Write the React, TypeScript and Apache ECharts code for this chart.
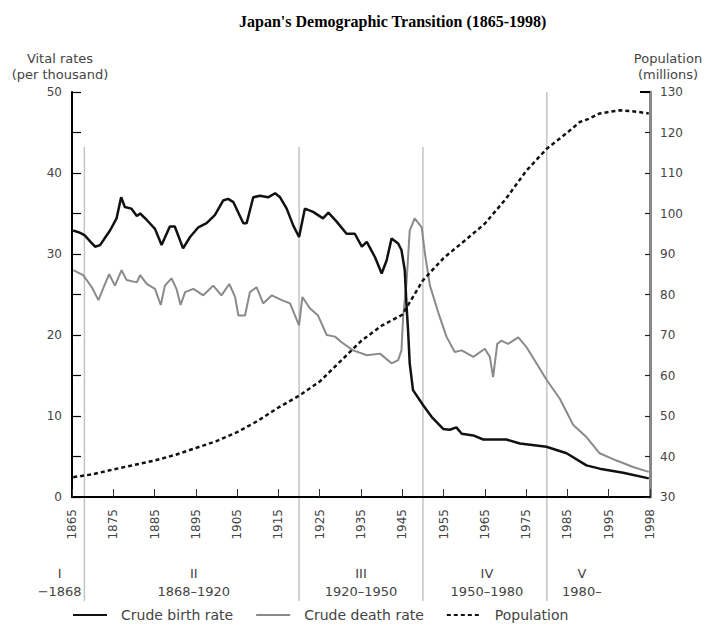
import React, { useEffect, useRef } from 'react';
import * as echarts from 'echarts';

// Horizontal positions are in the chart's own axis scale (ticks every 10 years from 1865; the last tick is labelled 1998)
const birthYears = [1865.3, 1867, 1868.1, 1869.5, 1870.6, 1871.8, 1873, 1874.2, 1875.8, 1876.9, 1877.8, 1879.4, 1880.7, 1881.5, 1883.1, 1885.1, 1886.7, 1888.7, 1889.9, 1891.9, 1893.6, 1895.6, 1897.6, 1899.6, 1901.6, 1902.8, 1904.1, 1906.5, 1907.3, 1908.9, 1910.5, 1912.5, 1914.2, 1915.4, 1917, 1918.6, 1920, 1921.4, 1923.4, 1925.8, 1927.1, 1929.1, 1931.5, 1933.5, 1935.2, 1936.4, 1938.4, 1940, 1941.2, 1942.4, 1944, 1944.8, 1945.6, 1946, 1946.4, 1946.8, 1947.6, 1950.1, 1952.1, 1954.9, 1956.5, 1958.1, 1959.4, 1962.2, 1964.6, 1970.2, 1973.5, 1979.9, 1984.8, 1989.6, 1992.8, 1998.5, 2004.7];
const birthRates = [32.9, 32.6, 32.3, 31.5, 30.9, 31.1, 32.0, 32.9, 34.4, 37.0, 35.8, 35.6, 34.7, 35.0, 34.2, 33.1, 31.1, 33.4, 33.4, 30.7, 32.1, 33.3, 33.8, 34.8, 36.6, 36.8, 36.4, 33.8, 33.8, 37.0, 37.2, 37.0, 37.5, 37.0, 35.6, 33.5, 32.1, 35.6, 35.2, 34.4, 35.1, 34.0, 32.5, 32.5, 30.9, 31.5, 29.6, 27.6, 29.2, 31.9, 31.3, 30.5, 28.0, 23.9, 20.6, 16.5, 13.2, 11.3, 9.9, 8.4, 8.3, 8.6, 7.8, 7.6, 7.1, 7.1, 6.6, 6.2, 5.4, 3.9, 3.5, 3.0, 2.3];

const deathYears = [1865.3, 1867.7, 1869.8, 1871.4, 1873, 1874, 1875.4, 1877, 1878.2, 1880.7, 1881.5, 1883.1, 1885.1, 1886.5, 1887.5, 1889.1, 1890.3, 1891.3, 1892.4, 1894.4, 1896.8, 1899.2, 1901.2, 1903.1, 1904.5, 1905.3, 1906.9, 1908.1, 1909.7, 1911.3, 1913.4, 1915.8, 1917.8, 1920, 1920.8, 1922.6, 1924.6, 1926.7, 1928.7, 1930.3, 1933.1, 1936.4, 1939.6, 1942.4, 1944, 1944.8, 1945.2, 1946, 1946.8, 1948, 1949.7, 1950.5, 1951.7, 1953.7, 1955.7, 1957.7, 1959.4, 1962.2, 1965, 1966.2, 1967, 1968, 1969, 1970.6, 1973.1, 1975.1, 1977.5, 1979.9, 1983.2, 1984.8, 1986.4, 1989.6, 1992.8, 1996.9, 2000.9, 2004.7];
const deathRates = [28.0, 27.4, 25.9, 24.3, 26.3, 27.5, 26.1, 28.0, 26.8, 26.5, 27.4, 26.3, 25.7, 23.7, 26.1, 27.0, 25.7, 23.7, 25.3, 25.7, 24.9, 26.1, 24.9, 26.3, 24.7, 22.4, 22.4, 25.3, 25.9, 23.9, 24.9, 24.3, 23.9, 21.2, 24.7, 23.3, 22.4, 20.0, 19.8, 19.1, 18.1, 17.5, 17.7, 16.5, 16.9, 18.1, 22.2, 26.3, 32.9, 34.4, 33.3, 30.0, 26.1, 22.8, 19.8, 17.9, 18.1, 17.3, 18.3, 17.3, 14.8, 18.9, 19.3, 18.9, 19.7, 18.5, 16.5, 14.5, 12.1, 10.5, 8.9, 7.4, 5.4, 4.5, 3.7, 3.1];

const popYears = [1865.3, 1870, 1875, 1880, 1885, 1890, 1895, 1900, 1905, 1910, 1915, 1920, 1925, 1930, 1935, 1940, 1945, 1950, 1955, 1960, 1965, 1970, 1975, 1980, 1985, 1988, 1990, 1992.8, 1997.7, 2000, 2002, 2004.7];
const popMillions = [34.9, 35.6, 36.8, 37.9, 39.0, 40.4, 42.1, 43.8, 46.0, 48.8, 52.1, 55.0, 58.5, 63.5, 68.5, 72.3, 75.0, 83.5, 89.0, 93.2, 97.5, 103.5, 110.5, 116.0, 120.0, 122.6, 123.3, 124.7, 125.5, 125.3, 125.1, 124.7];

const xMin = 1865;
const xMax = 2005;
const lastTickLabel = '1998';

const periodBounds = [1868, 1920, 1950, 1980];
const periodDividerTops = [43.2, 43.2, 43.2, 50];
const periodRoman = ['I', 'II', 'III', 'IV', 'V'];
const periodRanges = ['\u22121868', '1868\u20131920', '1920\u20131950', '1950\u20131980', '1980\u2013'];
const periodCenters = [1862, 1894.5, 1935, 1965.5, 1988.5];

const FONT = 'DejaVu Sans';
const TXT = '#444';

export default function App() {
  const ref = useRef<HTMLDivElement>(null);
  useEffect(() => {
    const chart = echarts.init(ref.current!, null, { renderer: 'svg' });
    const pairs = (xs: number[], ys: number[]) => xs.map((x, i) => [x, ys[i]]);
    chart.setOption({
      animation: false,
      backgroundColor: '#fff',
      title: {
        text: "Japan's Demographic Transition (1865-1998)",
        left: 239,
        top: 13,
        padding: 0,
        textStyle: { fontFamily: 'Liberation Serif', fontWeight: 'bold', fontSize: 16, color: '#000' },
      },
      legend: {
        left: 72,
        top: 608,
        padding: 0,
        itemWidth: 34,
        itemHeight: 12,
        itemGap: 22,
        itemStyle: { opacity: 0 },
        textStyle: { fontFamily: FONT, fontSize: 14, lineHeight: 14, color: TXT, padding: [0, 0, 0, 9] },
        data: ['Crude birth rate', 'Crude death rate', 'Population'],
      },
      grid: { left: 72, top: 92, width: 578, height: 405, containLabel: false },
      xAxis: {
        type: 'value',
        min: xMin,
        max: xMax,
        interval: 10,
        splitLine: { show: false },
        axisLine: { lineStyle: { color: '#000', width: 2 } },
        axisTick: { inside: true, length: 8, lineStyle: { color: '#333', width: 1 } },
        axisLabel: {
          rotate: 90,
          margin: 12,
          fontFamily: FONT,
          fontSize: 12,
          color: TXT,
          formatter: (v: number) => (v === xMax ? lastTickLabel : String(v)),
        },
      },
      yAxis: [
        {
          type: 'value',
          min: 0,
          max: 50,
          interval: 10,
          name: 'Vital rates\n(per thousand)',
          nameLocation: 'end',
          nameGap: 10,
          nameTextStyle: { fontFamily: FONT, fontSize: 13, color: TXT, align: 'center', lineHeight: 16, padding: [0, 24, 0, 0] },
          splitLine: { show: false },
          axisLine: { show: true, lineStyle: { color: '#000', width: 2 } },
          axisTick: { show: true, inside: true, length: 9, lineStyle: { color: '#000', width: 1.2 } },
          minorTick: { show: true, splitNumber: 2, length: 9, lineStyle: { color: '#000', width: 1.2 } },
          axisLabel: { fontFamily: FONT, fontSize: 12, color: TXT, margin: 10 },
        },
        {
          type: 'value',
          min: 30,
          max: 130,
          interval: 10,
          position: 'right',
          name: 'Population\n(millions)',
          nameLocation: 'end',
          nameGap: 10,
          nameTextStyle: { fontFamily: FONT, fontSize: 13, color: TXT, align: 'center', lineHeight: 16, padding: [0, 0, 0, 36] },
          splitLine: { show: false },
          axisLine: { show: true, lineStyle: { color: '#888', width: 3 } },
          axisTick: { show: true, inside: true, length: 5, lineStyle: { color: '#222', width: 1.2 } },
          axisLabel: { fontFamily: FONT, fontSize: 12, color: TXT, margin: 10 },
        },
      ],
      series: [
        {
          name: 'Crude birth rate',
          type: 'line',
          yAxisIndex: 0,
          symbol: 'none',
          data: pairs(birthYears, birthRates),
          lineStyle: { color: '#111', width: 2.5 },
          itemStyle: { color: '#111' },
          z: 4,
        },
        {
          name: 'Crude death rate',
          type: 'line',
          yAxisIndex: 0,
          symbol: 'none',
          data: pairs(deathYears, deathRates),
          lineStyle: { color: '#8a8a8a', width: 2 },
          itemStyle: { color: '#8a8a8a' },
          z: 3,
        },
        {
          name: 'Population',
          type: 'line',
          yAxisIndex: 1,
          symbol: 'none',
          data: pairs(popYears, popMillions),
          lineStyle: { color: '#111', width: 2.5, type: [4, 3] },
          itemStyle: { color: '#111' },
          z: 5,
        },
      ],
    });

    const px = (v: number) => chart.convertToPixel({ xAxisIndex: 0 }, v) as number;
    const py = (v: number) => chart.convertToPixel({ yAxisIndex: 0 }, v) as number;
    const pyR = (v: number) => chart.convertToPixel({ yAxisIndex: 1 }, v) as number;
    const base = py(0);
    const g: any[] = [];
    periodBounds.forEach((yr, i) => {
      const x = px(yr);
      g.push({
        type: 'line',
        z: 0,
        shape: { x1: x, y1: py(periodDividerTops[i]), x2: x, y2: base + 104 },
        style: { stroke: '#c4c4c4', lineWidth: 1.5 },
      });
    });
    periodRoman.forEach((r, i) => {
      const x = px(periodCenters[i]);
      g.push({
        type: 'text',
        x,
        y: base + 76,
        style: { text: r, fill: TXT, fontFamily: FONT, fontSize: 13, align: 'center', verticalAlign: 'middle' },
      });
      g.push({
        type: 'text',
        x,
        y: base + 94,
        style: { text: periodRanges[i], fill: TXT, fontFamily: FONT, fontSize: 13, align: 'center', verticalAlign: 'middle' },
      });
    });
    const rx = px(xMax);
    const topY = pyR(130);
    g.push({ type: 'line', z: 10, shape: { x1: rx - 10, y1: topY, x2: rx, y2: topY }, style: { stroke: '#000', lineWidth: 2 } });
    chart.setOption({ graphic: g });

    return () => chart.dispose();
  }, []);
  return <div ref={ref} style={{ position: 'absolute', left: 0, top: 0, width: 708, height: 626 }} />;
}
